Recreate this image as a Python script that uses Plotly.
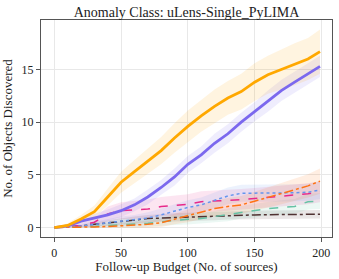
import plotly.graph_objects as go

budget = [0, 10, 20, 30, 40, 50, 60, 70, 80, 90, 100, 110, 120, 130, 140, 150, 160, 170, 180, 190, 199]

orange_mean = [0, 0.2, 0.8, 1.5, 2.9, 4.3, 5.3, 6.3, 7.3, 8.5, 9.6, 10.6, 11.5, 12.3, 12.9, 13.8, 14.5, 15.0, 15.5, 16.0, 16.7]
orange_std = [0, 0.2, 0.4, 0.6, 0.8, 1.0, 1.1, 1.2, 1.3, 1.4, 1.5, 1.5, 1.6, 1.6, 1.7, 1.8, 1.8, 1.9, 2.0, 2.0, 2.1]

purple_mean = [0, 0.15, 0.6, 0.9, 1.2, 1.6, 2.15, 2.9, 3.8, 4.8, 6.0, 6.9, 8.0, 8.9, 10.0, 11.0, 12.0, 13.0, 13.8, 14.6, 15.3]
purple_std = [0, 0.1, 0.3, 0.4, 0.5, 0.6, 0.6, 0.7, 0.7, 0.8, 0.8, 0.8, 0.9, 0.9, 0.9, 0.9, 1.0, 1.0, 1.0, 1.0, 1.0]

redorange_mean = [0, 0, 0, 0.05, 0.1, 0.15, 0.22, 0.3, 0.45, 0.8, 1.1, 1.5, 1.8, 2.0, 2.15, 2.5, 2.85, 3.2, 3.55, 3.95, 4.4]
redorange_std = [0, 0, 0.05, 0.1, 0.15, 0.2, 0.3, 0.35, 0.4, 0.5, 0.6, 0.7, 0.75, 0.8, 0.85, 0.9, 0.95, 1.0, 1.05, 1.1, 1.2]

blue_mean = [0, 0.05, 0.15, 0.3, 0.45, 0.6, 0.7, 0.9, 1.2, 1.55, 1.9, 2.15, 2.55, 3.0, 3.25, 3.25, 3.25, 3.25, 3.3, 3.35, 3.55]
blue_std = [0, 0.05, 0.15, 0.25, 0.35, 0.45, 0.5, 0.55, 0.6, 0.65, 0.7, 0.7, 0.75, 0.8, 0.8, 0.8, 0.8, 0.8, 0.8, 0.8, 0.85]

pink_mean = [0, 0.1, 0.2, 0.5, 1.3, 1.6, 1.65, 1.75, 2.0, 2.1, 2.2, 2.45, 2.5, 2.55, 2.65, 2.75, 2.85, 3.0, 3.1, 3.2, 3.4]
pink_std = [0, 0.1, 0.2, 0.4, 0.7, 0.8, 0.85, 0.9, 0.9, 0.95, 0.95, 1.0, 1.0, 1.0, 1.0, 1.0, 1.0, 1.0, 1.0, 1.0, 1.0]

green_mean = [0, 0.02, 0.05, 0.1, 0.2, 0.25, 0.3, 0.4, 0.55, 0.7, 0.78, 0.85, 1.05, 1.2, 1.45, 1.6, 1.8, 1.9, 2.0, 2.45, 2.5]
green_std = [0, 0.02, 0.05, 0.1, 0.2, 0.25, 0.3, 0.35, 0.4, 0.45, 0.5, 0.5, 0.55, 0.6, 0.6, 0.65, 0.65, 0.7, 0.7, 0.75, 0.75]

brown_mean = [0, 0.05, 0.15, 0.3, 0.45, 0.55, 0.7, 0.85, 0.9, 0.95, 1.0, 1.05, 1.1, 1.15, 1.18, 1.2, 1.22, 1.23, 1.24, 1.25, 1.26]
brown_std = [0, 0.05, 0.1, 0.2, 0.25, 0.3, 0.35, 0.35, 0.4, 0.4, 0.4, 0.4, 0.4, 0.4, 0.4, 0.4, 0.4, 0.4, 0.4, 0.4, 0.4]

x_ticks = [0, 50, 100, 150, 200]
y_ticks = [0, 5, 10, 15]

series = [
    (brown_mean, brown_std, (80, 50, 50), "dashdot", 1.5),
    (green_mean, green_std, (102, 194, 165), "dash", 1.5),
    (pink_mean, pink_std, (231, 41, 138), "dash", 1.5),
    (blue_mean, blue_std, (100, 149, 237), "dot", 1.5),
    (redorange_mean, redorange_std, (255, 115, 20), "dashdot", 1.5),
    (purple_mean, purple_std, (123, 104, 238), "solid", 2.8),
    (orange_mean, orange_std, (255, 168, 0), "solid", 2.8),
]

fig = go.Figure()
for mean, std, rgb, dash, w in series:
    upper = [m + s for m, s in zip(mean, std)]
    lower = [m - s for m, s in zip(mean, std)]
    fig.add_trace(go.Scatter(
        x=budget + budget[::-1], y=upper + lower[::-1],
        fill="toself", fillcolor="rgba(%d,%d,%d,0.12)" % rgb,
        line=dict(width=0), mode="lines", showlegend=False, hoverinfo="skip"))
for mean, std, rgb, dash, w in series:
    fig.add_trace(go.Scatter(
        x=budget, y=mean, mode="lines",
        line=dict(color="rgb(%d,%d,%d)" % rgb, width=w, dash=dash),
        showlegend=False))

font_family = "Liberation Serif, Times New Roman, serif"
fig.update_layout(
    width=339, height=279,
    margin=dict(l=40, r=6, t=20, b=42),
    paper_bgcolor="white", plot_bgcolor="white",
    font=dict(family=font_family, size=12, color="#222"),
    title=dict(text="Anomaly Class: uLens-Single_PyLIMA", x=0.5, xref="paper",
               y=1 - 12 / 279, yanchor="middle", font=dict(size=14, family=font_family, color="#222")),
    xaxis=dict(range=[-10, 208], tickvals=x_ticks, ticktext=[str(v) for v in x_ticks],
               showgrid=True, gridcolor="#e8e8e8", gridwidth=1, zeroline=False,
               showline=True, linecolor="#555", linewidth=1.2, mirror=True,
               ticks="outside", ticklen=4, tickcolor="#555",
               title=dict(text="Follow-up Budget (No. of sources)", font=dict(size=13), standoff=2),
               tickfont=dict(size=12)),
    yaxis=dict(range=[-0.9, 19.7], tickvals=y_ticks, ticktext=[str(v) for v in y_ticks],
               showgrid=True, gridcolor="#e8e8e8", gridwidth=1, zeroline=False,
               showline=True, linecolor="#555", linewidth=1.2, mirror=True,
               ticks="outside", ticklen=4, tickcolor="#555",
               title=dict(text="No. of Objects Discovered", font=dict(size=13), standoff=6),
               tickfont=dict(size=12)),
)

fig.write_html("out.html", config={"displayModeBar": False},
               post_script="document.body.style.margin='0';document.body.style.padding='0';")
